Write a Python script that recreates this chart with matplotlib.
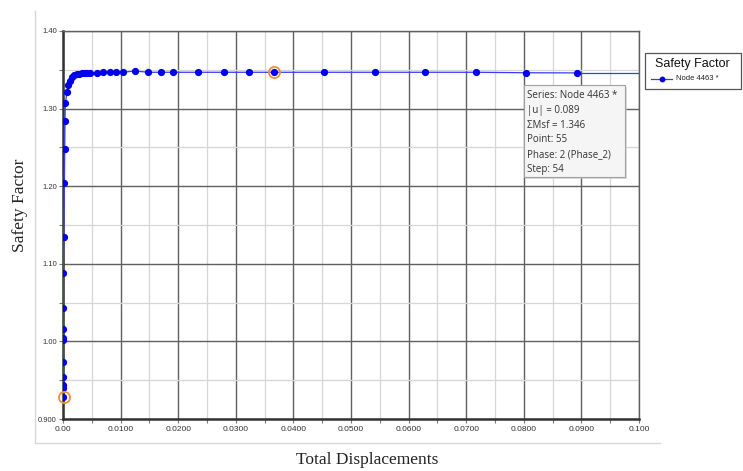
import matplotlib
matplotlib.use("Agg")
import matplotlib.pyplot as plt
from matplotlib.patches import Rectangle
from matplotlib.lines import Line2D

# ---- data ----
disp = [0.00004, 0.00004, 0.00004, 0.00004, 0.00004, 0.00004, 0.00004, 0.00004,
        0.00004, 0.00005, 0.00012, 0.00024, 0.0003, 0.00035, 0.0004, 0.00069,
        0.00092, 0.00122, 0.00151, 0.00191, 0.00238, 0.00283, 0.0033, 0.00377,
        0.00422, 0.00469, 0.00595, 0.0070, 0.00811, 0.0092, 0.01033, 0.01255,
        0.01476, 0.01696, 0.01905, 0.02349, 0.02795, 0.03234, 0.03663, 0.04531,
        0.05411, 0.0629, 0.0717, 0.08038, 0.08918]
sf = [0.928, 0.940, 0.944, 0.954, 0.973, 1.002, 1.005, 1.016,
      1.043, 1.088, 1.134, 1.204, 1.248, 1.284, 1.307, 1.321,
      1.330, 1.336, 1.3407, 1.3433, 1.3446, 1.3452, 1.3455, 1.3456,
      1.346, 1.346, 1.3465, 1.3468, 1.3468, 1.3468, 1.3468, 1.3485,
      1.3468, 1.3468, 1.3468, 1.3468, 1.3468, 1.3468, 1.3468, 1.3468,
      1.3468, 1.3468, 1.3468, 1.3462, 1.346]
# continuation of the curve beyond the visible x range (clipped)
disp_tail = [0.08918, 0.1035]
sf_tail = [1.346, 1.346]
highlight_x = [0.0001, 0.03663]
highlight_y = [0.928, 1.3468]

x_ticks = [0.0, 0.01, 0.02, 0.03, 0.04, 0.05, 0.06, 0.07, 0.08, 0.09, 0.10]
x_tick_labels = ["0.00", "0.0100", "0.0200", "0.0300", "0.0400", "0.0500",
                 "0.0600", "0.0700", "0.0800", "0.0900", "0.100"]
y_ticks = [0.9, 1.0, 1.1, 1.2, 1.3, 1.4]
y_tick_labels = ["0.900", "1.00", "1.10", "1.20", "1.30", "1.40"]

series_name = "Node 4463 *"
legend_title = "Safety Factor"
tooltip_lines = ["Series: Node 4463 *", "|u| = 0.089", "\u03a3Msf = 1.346",
                 "Point: 55", "Phase: 2 (Phase_2)", "Step: 54"]

# ---- figure ----
W, H = 743, 471
fig = plt.figure(figsize=(W / 100, H / 100), dpi=100)
L, R, T, B = 63, 639, 31, 419
ax = fig.add_axes([L / W, 1 - B / H, (R - L) / W, (B - T) / H])

ax.set_xlim(0, 0.10)
ax.set_ylim(0.9, 1.4)
ax.set_xticks(x_ticks)
ax.set_xticklabels(x_tick_labels)
ax.set_yticks(y_ticks)
ax.set_yticklabels(y_tick_labels)
ax.set_xticks([0.005 + 0.01 * i for i in range(10)], minor=True)
ax.set_yticks([0.95 + 0.1 * i for i in range(5)], minor=True)

ax.grid(True, which="major", color="#606060", linewidth=1.0, zorder=0)
ax.grid(True, which="minor", color="#d6d6d6", linewidth=0.9, zorder=0)
ax.set_axisbelow(True)

ax.tick_params(which="both", direction="out", length=3, width=0.8,
               color="#777777", labelcolor="#333333", pad=2)
ax.tick_params(axis="x", labelsize=6)
ax.tick_params(axis="y", labelsize=5.5, pad=1.5)
for lab in ax.get_xticklabels() + ax.get_yticklabels():
    lab.set_family("Liberation Sans")
for s in ["top", "right"]:
    ax.spines[s].set_color("#606060")
    ax.spines[s].set_linewidth(1.0)
for s in ["left", "bottom"]:
    ax.spines[s].set_color("#333333")
    ax.spines[s].set_linewidth(1.8)

ax.plot(disp_tail, sf_tail, color="#3a3aff", linewidth=0.9, zorder=3)
ax.plot(disp, sf, color="#3a3aff", linewidth=0.9, marker="o",
        markersize=4.2, markerfacecolor="#0000ee", markeredgecolor="#0000ee",
        zorder=4)
ax.plot(highlight_x, highlight_y, linestyle="none", marker="o", markersize=8,
        markerfacecolor="none", markeredgecolor="#f0922b", markeredgewidth=1.3,
        zorder=5, clip_on=False)

# axis labels (serif)
fig.text(367 / W, 1 - 460 / H, "Total Displacements", family="Liberation Serif",
         fontsize=12.5, ha="center", va="center", color="#222222")
fig.text(20 / W, 1 - 205 / H, "Safety Factor", family="Liberation Serif",
         fontsize=12.5, ha="center", va="center", rotation=90, color="#222222")

# outer light frame lines
fig.add_artist(Line2D([35 / W, 35 / W], [1 - 11 / H, 1 - 443 / H],
                      color="#d8d8d8", linewidth=1.0))
fig.add_artist(Line2D([35 / W, 660 / W], [1 - 443 / H, 1 - 443 / H],
                      color="#d8d8d8", linewidth=1.0))

# legend box
lx0, ly0, lx1, ly1 = 645, 53, 741, 89
fig.add_artist(Rectangle((lx0 / W, 1 - ly1 / H), (lx1 - lx0) / W, (ly1 - ly0) / H,
                         facecolor="white", edgecolor="#555555", linewidth=0.9))
fig.text(692 / W, 1 - 64 / H, legend_title, family="Liberation Sans",
         fontsize=9, ha="center", va="center", color="#111111")
fig.add_artist(Line2D([651 / W, 672 / W], [1 - 79 / H, 1 - 79 / H],
                      color="#3a3aff", linewidth=0.9))
fig.add_artist(Line2D([661.5 / W], [1 - 79 / H], color="#0000ee", marker="o",
                      markersize=3.2, linestyle="none"))
fig.text(676 / W, 1 - 79 / H, series_name, family="Liberation Sans",
         fontsize=5.5, ha="left", va="center", color="#222222")

# tooltip
tx0, ty0, tx1, ty1 = 524, 85, 625, 177
fig.add_artist(Rectangle(((tx0 + 2) / W, 1 - (ty1 + 2) / H), (tx1 - tx0) / W,
                         (ty1 - ty0) / H, facecolor="#c8c8c8",
                         edgecolor="none", alpha=0.6))
fig.add_artist(Rectangle((tx0 / W, 1 - ty1 / H), (tx1 - tx0) / W,
                         (ty1 - ty0) / H, facecolor="#f5f5f5",
                         edgecolor="#a0a0a0", linewidth=0.8))
for i, line in enumerate(tooltip_lines):
    fig.text((tx0 + 3) / W, 1 - (95 + 15 * i) / H, line, fontsize=7,
             family="Open Sans", ha="left", va="center", color="#333333")

fig.savefig("out.png", dpi=100)
